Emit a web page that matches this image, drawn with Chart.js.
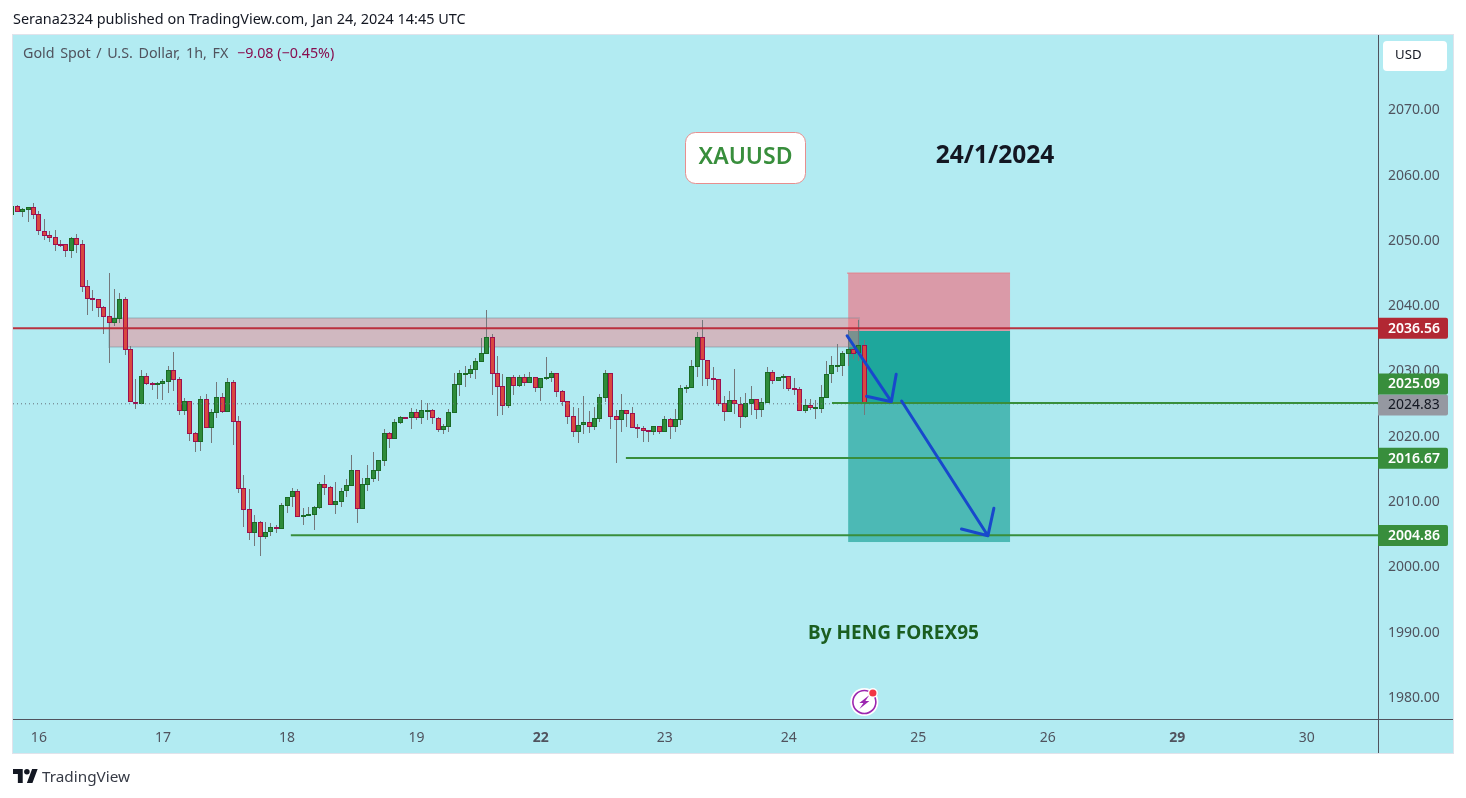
<!DOCTYPE html>
<html><head><meta charset="utf-8">
<script src="https://cdn.jsdelivr.net/npm/chart.js@4"></script>
<style>
html,body{margin:0;padding:0;background:#fff;width:1466px;height:798px;overflow:hidden}
canvas{position:absolute;left:0;top:0}
.t{position:absolute;white-space:nowrap;font-family:"Noto Sans",sans-serif}
</style></head><body>
<canvas id="c" width="1466" height="798"></canvas>
<div class="t" style="left:13px;top:10px;font-size:14.45px;line-height:18px;color:#131722">Serana2324 published on TradingView.com, Jan 24, 2024 14:45 UTC</div>
<div class="t" style="left:23px;top:44px;font-size:14.3px;line-height:18px;word-spacing:1.9px;color:#50535e">Gold Spot / U.S. Dollar, 1h, FX</div>
<div class="t" style="left:237px;top:44px;font-size:14.3px;line-height:18px;color:#880e4f">−9.08 (−0.45%)</div>
<svg style="position:absolute;left:13px;top:769px" width="25" height="14" viewBox="0 0 36 20"><path fill="#131722" d="M14 20H7V7H0V0h14v20zM28 20h-8L27.5 0h8L28 20z"/><circle cx="20" cy="4" r="4" fill="#131722"/></svg>
<div class="t" style="left:42px;top:767px;font-size:15.3px;line-height:19px;color:#363a45">TradingView</div>
<script>
// Hourly candles, index 0 = first hour shown after the clipped bar at the left edge
const opens=[2053.78,
2055.06,2054.24,2054.55,2054.90,2053.83,2051.23,2050.62,2050.31,2049.24,2049.24,
2048.27,2050.16,2049.24,2042.81,2041.02,2040.82,2039.60,2038.22,2037.25,2037.86,
2040.82,2033.17,2025.06,2024.85,2029.03,2027.96,2027.91,2027.91,2028.22,2029.95,
2028.58,2023.78,2025.21,2020.36,2019.03,2025.51,2021.18,2023.47,2025.82,2023.63,
2028.12,2022.14,2011.89,2008.67,2005.10,2006.68,2004.49,2005.26,2005.92,2005.71,
2009.24,2010.51,2011.43,2007.45,2007.86,2007.86,2008.93,2012.50,2012.04,2009.39,
2009.85,2011.43,2012.30,2014.64,2008.78,2012.45,2013.37,2014.59,2016.12,2020.31,
2019.49,2021.94,2022.76,2022.60,2023.52,2022.70,2023.78,2023.83,2022.60,2020.87,
2021.33,2023.47,2027.76,2029.44,2029.44,2030.05,2031.28,2032.50,2035.00,2029.49,
2027.50,2024.54,2028.88,2027.60,2028.88,2028.01,2028.88,2027.30,2028.83,2028.83,
2029.49,2026.74,2025.21,2022.91,2020.56,2021.53,2021.99,2021.33,2022.55,2025.77,
2029.49,2022.91,2022.40,2023.83,2023.37,2021.23,2021.07,2020.77,2020.56,2021.38,
2020.46,2022.46,2021.33,2022.40,2027.20,2027.30,2030.52,2035.01,2031.49,2028.73,
2028.58,2024.90,2023.63,2025.36,2024.75,2022.86,2024.85,2025.52,2023.93,2025.01,
2029.65,2028.37,2028.88,2029.04,2027.20,2027.05,2023.78,2024.60,2024.24,2024.09,
2025.77,2029.34,2030.67,2030.57,2032.51,2033.17,2032.56,2033.78];
const highs=[2055.06,
2055.26,2054.75,2054.90,2055.51,2054.34,2053.12,2051.28,2051.43,2049.90,2049.24,
2050.36,2050.82,2049.90,2043.78,2042.25,2040.87,2039.80,2044.85,2042.40,2041.79,
2041.18,2033.68,2028.63,2030.00,2029.55,2028.17,2028.12,2028.63,2030.62,2032.76,
2028.93,2025.72,2025.21,2020.46,2026.02,2026.33,2024.04,2028.17,2026.48,2028.83,
2028.42,2022.96,2013.93,2011.79,2007.81,2006.89,2006.68,2006.53,2006.28,2009.64,
2010.51,2011.89,2011.79,2008.88,2009.03,2009.18,2012.86,2013.93,2012.19,2012.86,
2011.94,2013.32,2016.99,2014.64,2013.47,2015.46,2017.45,2016.23,2020.97,2020.51,
2022.50,2022.96,2022.76,2024.18,2023.98,2025.41,2024.95,2023.98,2022.81,2021.74,
2024.03,2029.49,2030.00,2030.61,2030.77,2031.79,2034.90,2039.18,2035.51,2032.14,
2029.39,2028.88,2029.24,2029.24,2029.39,2029.69,2028.88,2028.78,2031.99,2029.85,
2029.49,2026.94,2025.26,2024.34,2024.18,2026.02,2023.73,2024.34,2026.33,2030.00,
2029.49,2023.88,2026.33,2023.88,2024.34,2021.74,2021.43,2020.82,2021.43,2021.43,
2022.96,2022.61,2024.04,2027.71,2027.71,2031.54,2035.82,2037.66,2031.49,2030.47,
2028.58,2026.03,2026.79,2030.16,2025.87,2026.49,2027.56,2025.57,2025.72,2030.47,
2029.96,2028.93,2029.34,2029.04,2028.73,2027.35,2025.57,2025.57,2025.41,2027.71,
2031.38,2032.15,2033.99,2032.86,2036.13,2033.99,2037.66,2034.60];
const lows=[2053.78,
2054.24,2053.42,2052.71,2053.17,2050.67,2049.90,2049.55,2048.27,2048.88,2047.30,
2047.20,2047.91,2041.94,2038.42,2039.03,2038.12,2035.51,2031.08,2036.74,2037.20,
2032.30,2025.06,2024.04,2024.85,2027.71,2026.94,2025.57,2025.41,2026.43,2026.79,
2023.12,2023.12,2019.14,2017.45,2017.61,2021.18,2018.83,2022.66,2023.42,2023.63,
2018.52,2011.23,2005.97,2003.98,2003.06,2001.53,2004.18,2004.59,2005.10,2005.71,
2008.11,2009.03,2007.45,2006.28,2007.65,2005.51,2008.73,2010.87,2009.39,2007.96,
2009.03,2010.56,2012.30,2006.58,2008.78,2011.48,2012.86,2013.01,2015.31,2018.06,
2019.49,2021.74,2022.55,2020.97,2022.35,2021.74,2022.35,2021.74,2020.51,2020.20,
2020.51,2023.47,2026.07,2027.40,2028.78,2028.62,2031.28,2032.50,2026.17,2022.96,
2023.11,2024.18,2026.17,2027.40,2027.55,2028.01,2026.58,2025.26,2028.47,2028.16,
2025.87,2024.54,2021.74,2019.75,2018.83,2020.21,2020.36,2020.82,2022.04,2025.10,
2020.97,2015.77,2020.51,2021.28,2021.17,2019.59,2018.98,2018.98,2020.05,2020.21,
2020.46,2019.45,2020.52,2021.59,2026.49,2027.30,2028.93,2027.56,2027.56,2026.95,
2024.50,2022.20,2023.63,2023.27,2021.13,2022.66,2023.12,2022.51,2022.81,2025.01,
2027.86,2028.37,2027.10,2026.79,2026.18,2023.78,2023.42,2023.88,2022.51,2023.42,
2025.77,2028.02,2029.70,2029.09,2030.62,2031.69,2031.38,2023.12];
const closes=[2055.06,
2054.24,2054.60,2054.90,2053.78,2051.23,2050.57,2050.26,2049.19,2049.19,2048.27,
2050.16,2049.19,2042.76,2040.92,2040.77,2039.55,2038.17,2037.25,2037.91,2040.82,
2033.12,2025.06,2024.85,2029.03,2027.91,2027.76,2028.01,2028.27,2029.95,2028.52,
2023.78,2025.21,2020.26,2019.03,2025.51,2021.18,2023.52,2025.82,2023.63,2028.12,
2022.10,2011.84,2008.62,2005.10,2006.68,2004.49,2005.26,2005.92,2005.87,2009.29,
2010.51,2011.43,2007.45,2007.76,2007.91,2008.98,2012.50,2011.99,2009.39,2009.90,
2011.43,2012.35,2014.64,2008.78,2012.50,2013.42,2014.64,2016.17,2020.31,2019.49,
2021.99,2022.76,2022.55,2023.52,2022.70,2023.83,2023.88,2022.60,2020.87,2021.38,
2023.52,2027.81,2029.49,2029.49,2030.10,2031.33,2032.55,2035.00,2029.44,2027.45,
2024.54,2028.88,2027.60,2028.88,2028.01,2028.88,2027.30,2028.73,2028.88,2029.49,
2026.68,2025.15,2022.86,2020.56,2021.53,2021.99,2021.33,2022.60,2025.82,2029.49,
2022.86,2022.40,2023.83,2023.32,2021.17,2021.02,2020.72,2020.56,2021.38,2020.46,
2022.45,2021.33,2022.46,2027.20,2027.35,2030.57,2035.01,2031.49,2028.68,2028.53,
2024.85,2023.63,2025.36,2024.75,2022.86,2024.90,2025.52,2023.93,2025.06,2029.65,
2028.37,2028.88,2029.04,2027.15,2027.00,2023.78,2024.60,2024.24,2024.29,2025.82,
2029.34,2030.72,2030.72,2032.56,2033.17,2032.51,2033.78,2024.83];

const firstBarIndex=-1;
const xRange=[-0.797,252.2];
const yRange=[1976.58,2081.28];
const priceTicks=[1980,1990,2000,2010,2020,2030,2040,2050,2060,2070];
const dayTickIndex=[4,27,50,74,97,120,143,167,191,215,239];
const dayTickLabels=['16','17','18','19','22','23','24','25','26','29','30'];
const weekStartLabels=['22','29'];

const lastPrice=2024.83;
const resistanceLevel=2036.56;
const targetLevels=[2025.09,2016.67,2004.86];
const targetStartIndex=[151,112.8,50.7];
const levelDrawShift=-0.15;
const supplyZoneX=[17,156];
const supplyZoneY=[2033.52,2037.96];
const positionX=[154,184];
const stopPrices=[2035.97,2044.75];
const profitNearPrices=[2024.87,2035.97];
const profitFarPrices=[2003.67,2024.87];
const arrowOneX=[153.8,162.0,157.4,162.0,162.9];
const arrowOneY=[2035.25,2025.15,2025.98,2025.15,2029.34];
const arrowTwoX=[163.9,179.9,175,179.9,181];
const arrowTwoY=[2025.26,2004.64,2005.66,2004.64,2008.83];

const UP_FILL='#2e8b3a',UP_EDGE='#1a6b26',DN_FILL='#d9483f',DN_EDGE='#9e1050';
const xOf=i=>i+firstBarIndex;
const isUp=i=>closes[i]>=opens[i];

const lineSet=(xs,ys,color,width,extra)=>Object.assign({type:'line',data:xs.map((x,i)=>({x,y:ys[i]})),
  borderColor:color,borderWidth:width,pointRadius:0,tension:0,fill:false},extra||{});

const datasets=[
  {type:'bar',order:6,grouped:false,barThickness:1,backgroundColor:'#74787b',borderWidth:0,inflateAmount:0,
    data:highs.map((h,i)=>({x:xOf(i),y:[lows[i],h]}))},
  {type:'bar',order:5,grouped:false,barThickness:5,borderWidth:1,borderSkipped:false,inflateAmount:0,
    backgroundColor:c=>isUp(c.dataIndex)?UP_FILL:DN_FILL,
    borderColor:c=>isUp(c.dataIndex)?UP_EDGE:DN_EDGE,
    data:opens.map((o,i)=>({x:xOf(i),y:[o,closes[i]]}))},
  lineSet([xRange[0],xRange[1]],[lastPrice,lastPrice],'#66707a',1,{order:4,borderDash:[1,3]}),
  lineSet([xRange[0],xRange[1]],[resistanceLevel+levelDrawShift,resistanceLevel+levelDrawShift],'rgba(185,35,50,0.92)',2,{order:3}),
];
targetLevels.forEach((lv,k)=>datasets.push(lineSet([targetStartIndex[k],xRange[1]],[lv+levelDrawShift,lv+levelDrawShift],'#388e3c',2,{order:2})));
datasets.push(lineSet(arrowOneX,arrowOneY,'#1848cc',3,{order:1,borderCapStyle:'round',borderJoinStyle:'round'}));
datasets.push(lineSet(arrowTwoX,arrowTwoY,'#1848cc',3,{order:1,borderCapStyle:'round',borderJoinStyle:'round'}));

const SANS='"Noto Sans",sans-serif';

// Candles sit on whole device pixels, so the scale-computed bar elements are snapped before painting.
const snapCandles=ch=>{
  [0,1].forEach(d=>ch.getDatasetMeta(d).data.forEach(el=>{
    el.x=Math.floor(el.x)+.5;
    const t=Math.round(Math.min(el.y,el.base));let b=Math.round(Math.max(el.y,el.base));
    if(d===1&&b-t<2)b=t+2;
    el.y=t;el.base=b;
  }));
};

const backdrop={id:'backdrop',
  beforeDraw(ch){const g=ch.ctx,a=ch.chartArea,sx=ch.scales.x,sy=ch.scales.y;
    g.save();g.fillStyle='#b2ebf2';g.fillRect(a.left,a.top,sy.right-a.left,sx.bottom-a.top);
    g.strokeStyle='#e0e3eb';g.lineWidth=1;g.strokeRect(a.left-.5,a.top-.5,sy.right-a.left+1,sx.bottom-a.top+1);g.restore();},
  beforeDatasetsDraw(ch){const g=ch.ctx,sx=ch.scales.x,sy=ch.scales.y;
    snapCandles(ch);
    const rect=(xs,ys,fill)=>{const x0=sx.getPixelForValue(xs[0]),x1=sx.getPixelForValue(xs[1]),y0=sy.getPixelForValue(ys[1]),y1=sy.getPixelForValue(ys[0]);
      g.fillStyle=fill;g.fillRect(x0,y0,x1-x0,y1-y0);return [x0,y0,x1-x0,y1-y0];};
    g.save();
    rect(positionX,profitFarPrices,'#4cb9b5');
    rect(positionX,profitNearPrices,'#1ea79c');
    const r=rect(positionX,stopPrices,'#da9aa8');
    g.fillStyle='#ef6b78';g.fillRect(r[0]-1,r[1]-1,r[2]+1,1);
    const z=rect(supplyZoneX,supplyZoneY,'rgba(250,115,125,0.42)');
    g.strokeStyle='rgba(110,140,150,0.28)';g.lineWidth=2;g.strokeRect(z[0],z[1],z[2],z[3]);
    g.restore();},
  afterDraw(ch){const g=ch.ctx,a=ch.chartArea,sx=ch.scales.x,sy=ch.scales.y;
    g.save();
    // frame lines
    g.fillStyle='#50535e';g.fillRect(a.right,a.top,1,sx.bottom-a.top);g.fillRect(a.left,a.bottom,sy.right-a.left,1);
    // currency button
    g.fillStyle='#fff';g.beginPath();g.roundRect(1383,41,64,30,4);g.fill();
    g.fillStyle='#131722';g.font='13.2px '+SANS;g.textAlign='left';g.textBaseline='middle';g.fillText('USD',1395,55.5);
    // price tags
    const tag=(price,yc,bg,fg,bold)=>{g.fillStyle=bg;g.beginPath();g.roundRect(a.right,yc-10.5,70,21,[0,2,2,0]);g.fill();
      g.fillStyle=fg;g.font=(bold?'600 ':'')+'14px '+SANS;g.textAlign='left';g.textBaseline='middle';g.fillText(price.toFixed(2),a.right+10,yc+.5);};
    const py=p=>sy.getPixelForValue(p)+1.2;
    tag(resistanceLevel,py(resistanceLevel),'#b22833','#fff',true);
    tag(lastPrice,py(lastPrice),'#9598a1','#131722',false);
    tag(targetLevels[0],py(lastPrice)-21,'#388e3c','#fff',true);
    tag(targetLevels[1],py(targetLevels[1]),'#388e3c','#fff',true);
    tag(targetLevels[2],py(targetLevels[2]),'#388e3c','#fff',true);
    // annotation labels
    g.fillStyle='#fff';g.strokeStyle='#e88e8e';g.lineWidth=1;g.beginPath();g.roundRect(685.5,132.5,120,51,10);g.fill();g.stroke();
    g.textAlign='center';g.fillStyle='#388e3c';g.font='600 23px '+SANS;g.fillText('XAUUSD',745.5,157);
    g.fillStyle='#131722';g.font='bold 24.5px '+SANS;g.fillText('24/1/2024',995,156);
    g.fillStyle='#1b5e20';g.font='bold 19px '+SANS;g.fillText('By HENG FOREX95',893.5,634);
    // news marker on the last bar
    const mx=sx.getPixelForValue(157),my=a.bottom-17;
    g.fillStyle='#fff';g.beginPath();g.arc(mx,my,14,0,7);g.fill();
    g.strokeStyle='#9c27b0';g.lineWidth=1.6;g.beginPath();g.arc(mx,my,11.5,0,7);g.stroke();
    g.fillStyle='#9c27b0';g.beginPath();g.moveTo(mx+5,my-7);g.lineTo(mx-5,my+1);g.lineTo(mx-1,my+1);g.lineTo(mx-5,my+7);g.lineTo(mx+5,my-1);g.lineTo(mx+1,my-1);g.closePath();g.fill();
    g.fillStyle='#fff';g.beginPath();g.arc(mx+8.5,my-9,5,0,7);g.fill();
    g.fillStyle='#f23645';g.beginPath();g.arc(mx+8.5,my-9,3.6,0,7);g.fill();
    g.restore();}
};

new Chart(document.getElementById('c'),{
  type:'bar',
  data:{datasets},
  plugins:[backdrop],
  options:{
    responsive:false,animation:false,devicePixelRatio:1,
    parsing:{xAxisKey:'x',yAxisKey:'y'},
    layout:{padding:{left:13,top:35,right:13,bottom:45}},
    plugins:{legend:{display:false},tooltip:{enabled:false},title:{display:false}},
    scales:{
      x:{type:'linear',min:xRange[0],max:xRange[1],offset:false,
        grid:{display:false,drawTicks:false},border:{display:false},
        afterFit(s){s.height=34;},
        afterBuildTicks(s){s.ticks=dayTickIndex.map(v=>({value:v}));},
        ticks:{autoSkip:false,maxRotation:0,padding:11,color:'#50535e',
          font:c=>({family:SANS,size:14,weight:weekStartLabels.includes(dayTickLabels[dayTickIndex.indexOf(c.tick&&c.tick.value)])?'bold':'normal'}),
          callback:v=>dayTickLabels[dayTickIndex.indexOf(v)]}},
      y:{type:'linear',position:'right',min:yRange[0],max:yRange[1],
        grid:{display:false,drawTicks:false},border:{display:false},
        afterFit(s){s.width=75;},
        afterBuildTicks(s){s.ticks=priceTicks.map(v=>({value:v}));},
        ticks:{autoSkip:false,padding:10,labelOffset:1.5,color:'#50535e',font:{family:SANS,size:14},callback:v=>v.toFixed(2)}}
    }
  }
});
</script>
</body></html>
